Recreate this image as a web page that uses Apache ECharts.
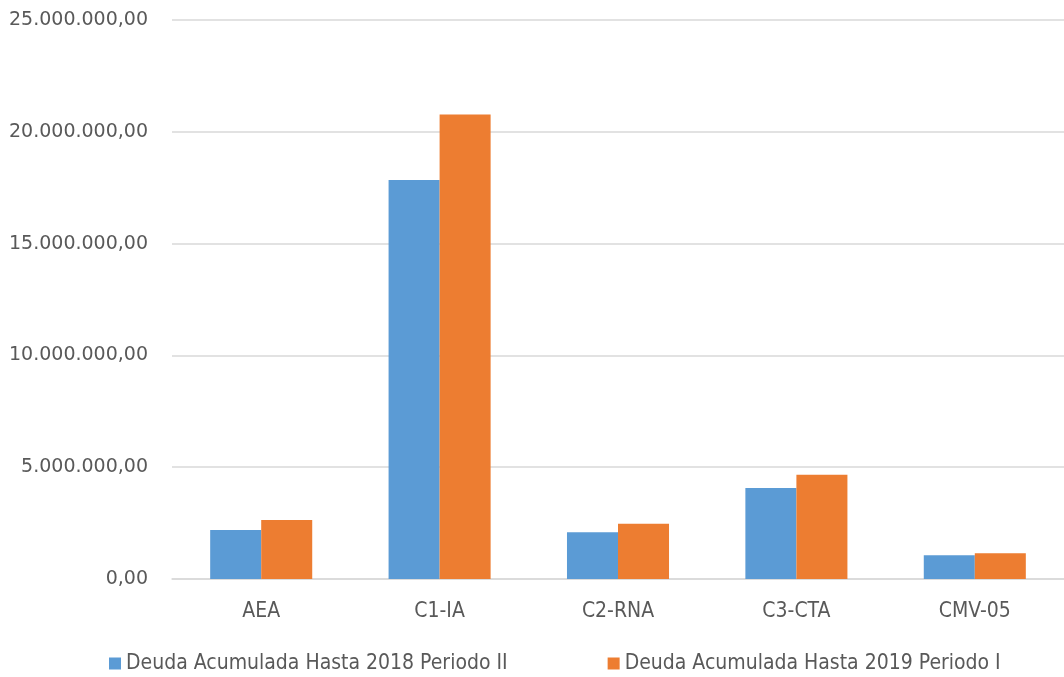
<!DOCTYPE html>
<html>
<head>
<meta charset="utf-8">
<script src="https://cdn.jsdelivr.net/npm/echarts@6/dist/echarts.min.js"></script>
<style>
html,body{margin:0;padding:0;background:#fff;}
#chart{width:1064px;height:677px;}
</style>
</head>
<body>
<div id="chart"></div>
<script>
var categories = ['AEA', 'C1-IA', 'C2-RNA', 'C3-CTA', 'CMV-05'];
var seriesNames = ['Deuda Acumulada Hasta 2018 Periodo II', 'Deuda Acumulada Hasta 2019 Periodo I'];
var deuda2018 = [2190000, 17840000, 2090000, 4070000, 1060000];
var deuda2019 = [2640000, 20770000, 2470000, 4660000, 1150000];

function fmt(v) {
  var s = Math.round(v).toString().replace(/\B(?=(\d{3})+(?!\d))/g, '.');
  return s + ',00';
}

var narrow = '"Liberation Sans Narrow", "DejaVu Sans Condensed", "Liberation Sans", sans-serif';
var chart = echarts.init(document.getElementById('chart'));
chart.setOption({
  animation: false,
  backgroundColor: '#ffffff',
  grid: { left: 172, right: 0, top: 20, bottom: 98, containLabel: false },
  legend: {
    data: seriesNames,
    left: 104,
    bottom: -2,
    icon: 'rect',
    itemWidth: 12,
    itemHeight: 12,
    itemGap: 100,
    textStyle: { fontFamily: narrow, fontSize: 21, color: '#595959' }
  },
  xAxis: {
    type: 'category',
    data: categories,
    axisTick: { show: false },
    axisLine: { lineStyle: { color: '#d9d9d9', width: 1.5 } },
    axisLabel: { fontFamily: narrow, fontSize: 21, color: '#595959', margin: 22 }
  },
  yAxis: {
    type: 'value',
    min: 0,
    max: 25000000,
    interval: 5000000,
    axisLine: { show: false },
    axisTick: { show: false },
    splitLine: { lineStyle: { color: '#d9d9d9', width: 1.5 } },
    axisLabel: { formatter: fmt, fontFamily: '"DejaVu Sans", sans-serif', fontSize: 19, color: '#595959', margin: 24 }
  },
  series: [
    { name: seriesNames[0], type: 'bar', data: deuda2018, barWidth: '28.6%', barGap: '0%', itemStyle: { color: '#5b9bd5' } },
    { name: seriesNames[1], type: 'bar', data: deuda2019, barWidth: '28.6%', barGap: '0%', itemStyle: { color: '#ed7d31' } }
  ]
});
</script>
</body>
</html>
